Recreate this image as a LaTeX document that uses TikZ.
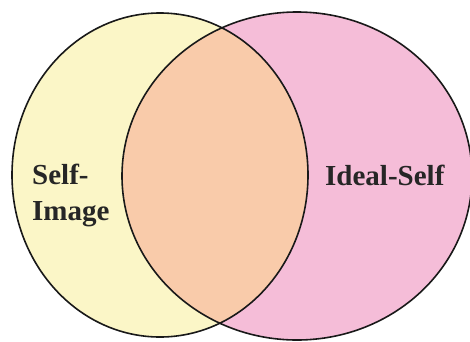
\documentclass[tikz,border=0pt]{standalone}
\usepackage{fontspec}
\setmainfont{Liberation Serif}
\begin{document}
\begin{tikzpicture}[x=1pt,y=1pt,
  outline/.style={draw=black!90,line width=1.6pt},
  lbl/.style={font=\fontsize{29}{36}\selectfont\bfseries,text=black!85,inner sep=0pt}]
\useasboundingbox (0,0) rectangle (470,341);
\clip (0,0) rectangle (470,341);
\fill[white] (0,0) rectangle (470,341);
\def\leftE{(160,166) ellipse [x radius=148, y radius=162]}
\def\rightE{(297,165) ellipse [x radius=175, y radius=164]}
\fill[fill={rgb,255:red,251;green,246;blue,199}] \leftE;
\fill[fill={rgb,255:red,245;green,189;blue,216}] \rightE;
\begin{scope}
  \clip \leftE;
  \fill[fill={rgb,255:red,249;green,203;blue,170}] \rightE;
\end{scope}
\draw[outline] \leftE;
\draw[outline] \rightE;
\node[lbl,anchor=base west,align=left] (selfimage) at (32,121) {Self-\\Image};
\node[lbl,anchor=base west] (idealself) at (325,156) {Ideal-Self};
\end{tikzpicture}
\end{document}
